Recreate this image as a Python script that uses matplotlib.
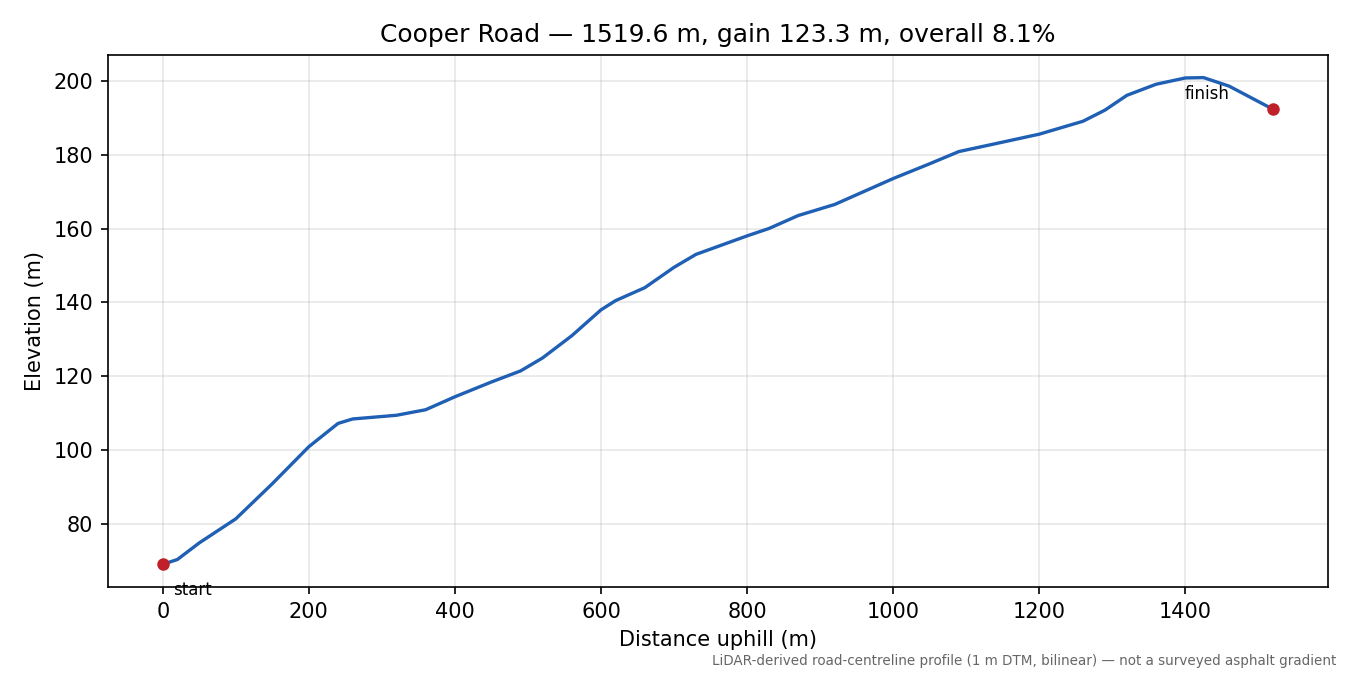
"""Cooper Road elevation profile."""

import matplotlib

matplotlib.use("Agg")
import matplotlib.pyplot as plt

distance_m = [0, 20, 50, 100, 150, 200, 240, 260, 320, 360, 400, 450, 490, 520, 560,
              600, 620, 660, 700, 730, 800, 830, 870, 920, 960, 1000, 1050, 1090,
              1130, 1200, 1260, 1290, 1320, 1360, 1400, 1425, 1460, 1519.6]
elevation_m = [69.2, 70.5, 75.0, 81.5, 91.0, 101.0, 107.3, 108.5, 109.5, 111.0, 114.5,
               118.5, 121.5, 125.0, 131.0, 138.0, 140.5, 144.0, 149.5, 153.0, 158.0,
               160.0, 163.5, 166.5, 170.0, 173.5, 177.5, 180.8, 182.5, 185.5, 189.0,
               192.0, 196.0, 199.0, 200.7, 200.8, 198.5, 192.3]

fig, ax = plt.subplots(figsize=(9, 4.5), dpi=150)
fig.subplots_adjust(left=0.08, right=0.984, top=0.919, bottom=0.130)

ax.plot(distance_m, elevation_m, color="#1f5fb4", linewidth=1.6)
ax.plot(distance_m[0], elevation_m[0], "o", color="#c0202a", markersize=5)
ax.plot(distance_m[-1], elevation_m[-1], "o", color="#c0202a", markersize=5)
ax.annotate("start", (distance_m[0], elevation_m[0]), xytext=(5, -8),
            textcoords="offset points", fontsize=8, va="top")
ax.annotate("finish", (distance_m[-1], elevation_m[-1]), xytext=(-42, 3),
            textcoords="offset points", fontsize=8, va="bottom")

ax.set_xlim(-75, 1596)
ax.set_ylim(63, 207)
ax.grid(True, alpha=0.3)
ax.set_xlabel("Distance uphill (m)")
ax.set_ylabel("Elevation (m)")
ax.set_title("Cooper Road — 1519.6 m, gain 123.3 m, overall 8.1%")
fig.text(0.99, 0.01, "LiDAR-derived road-centreline profile (1 m DTM, bilinear) — not a surveyed asphalt gradient",
         ha="right", va="bottom", fontsize=6.5, color="#666666")

fig.savefig("out.png", dpi=150)
